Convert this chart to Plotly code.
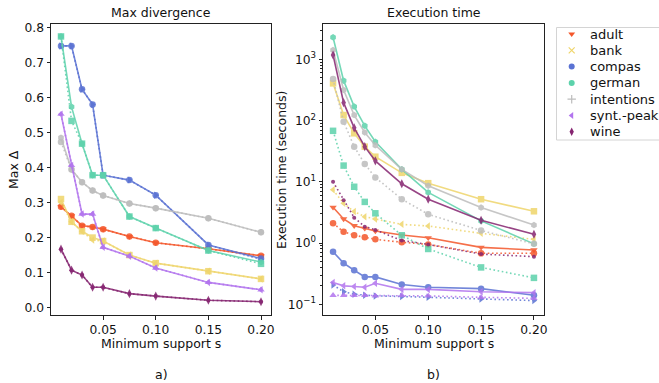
import plotly.graph_objects as go

support = [0.01, 0.02, 0.03, 0.04, 0.05, 0.075, 0.10, 0.15, 0.20]
datasets = ["adult", "bank", "compas", "german", "intentions", "synt.-peak", "wine"]
colors = {
    "adult": "#f4562a",
    "bank": "#efd56b",
    "compas": "#5a72d3",
    "german": "#5cd2ab",
    "intentions": "#bdbdbd",
    "synt.-peak": "#b274ee",
    "wine": "#852470",
}

# Max divergence (panel a) - method A (solid) and method B (dotted)
maxdelta_a = {
    "adult":      [0.288, 0.262, 0.234, 0.230, 0.224, 0.203, 0.185, 0.168, 0.148],
    "bank":       [0.310, 0.245, 0.218, 0.200, 0.190, 0.150, 0.127, 0.104, 0.082],
    "compas":     [0.747, 0.747, 0.623, 0.580, 0.378, 0.364, 0.321, 0.179, 0.140],
    "german":     [0.774, 0.573, 0.468, 0.378, 0.378, 0.260, 0.227, 0.163, 0.130],
    "intentions": [0.485, 0.394, 0.358, 0.334, 0.320, 0.297, 0.284, 0.255, 0.215],
    "synt.-peak": [0.552, 0.406, 0.267, 0.267, 0.172, 0.147, 0.113, 0.072, 0.051],
    "wine":       [0.167, 0.107, 0.093, 0.058, 0.058, 0.040, 0.033, 0.021, 0.017],
}
maxdelta_b = {
    "adult":      [0.288, 0.262, 0.234, 0.230, 0.224, 0.203, 0.185, 0.168, 0.148],
    "bank":       [0.300, 0.245, 0.218, 0.193, 0.190, 0.150, 0.127, 0.104, 0.082],
    "compas":     [0.747, 0.747, 0.623, 0.580, 0.378, 0.364, 0.321, 0.179, 0.138],
    "german":     [0.774, 0.533, 0.468, 0.378, 0.378, 0.260, 0.227, 0.163, 0.125],
    "intentions": [0.473, 0.394, 0.358, 0.334, 0.320, 0.297, 0.284, 0.255, 0.215],
    "synt.-peak": [0.552, 0.406, 0.267, 0.267, 0.172, 0.147, 0.113, 0.072, 0.051],
    "wine":       [0.167, 0.107, 0.093, 0.058, 0.058, 0.040, 0.033, 0.021, 0.017],
}

# Execution time in seconds (panel b)
time_a = {
    "adult":      [3.84, 2.47, 1.92, 1.74, 1.57, 1.35, 1.22, 0.85, 0.77],
    "bank":       [405, 123, 62, 37.5, 25.7, 14, 9.5, 5.2, 3.3],
    "compas":     [0.72, 0.47, 0.36, 0.28, 0.28, 0.21, 0.19, 0.18, 0.14],
    "german":     [2290, 449, 169, 82, 45, 16, 6.7, 2.3, 0.97],
    "intentions": [1420, 316, 123, 64, 39.5, 16, 8.65, 3.8, 1.97],
    "synt.-peak": [0.226, 0.20, 0.195, 0.19, 0.22, 0.175, 0.175, 0.16, 0.155],
    "wine":       [1180, 196, 76, 37.5, 22, 9.3, 5.2, 2.35, 1.39],
}
time_b = {
    "adult":      [2.1, 1.53, 1.34, 1.24, 1.15, 1.03, 0.95, 0.68, 0.68],
    "bank":       [7.4, 4.45, 3.26, 2.7, 2.47, 2.02, 1.9, 1.44, 1.15],
    "compas":     [0.207, 0.16, 0.146, 0.14, 0.137, 0.134, 0.13, 0.122, 0.115],
    "german":     [68, 18.4, 8.3, 4.7, 3.06, 1.34, 0.80, 0.40, 0.27],
    "intentions": [477, 96, 37.5, 19.5, 11.8, 5.2, 2.95, 1.6, 0.97],
    "synt.-peak": [0.14, 0.14, 0.14, 0.14, 0.137, 0.14, 0.137, 0.13, 0.125],
    "wine":       [10, 5.0, 2.6, 1.85, 1.64, 1.1, 0.95, 0.66, 0.6],
}

marker_a = {"adult": "triangle-down", "bank": "square", "compas": "circle",
            "german": "hexagon", "intentions": "hexagon", "synt.-peak": "triangle-left",
            "wine": "diamond-tall"}
marker_b = {"adult": "circle", "bank": "triangle-left", "compas": "triangle-right",
            "german": "square", "intentions": "circle", "synt.-peak": "triangle-up",
            "wine": "circle"}
legend_marker = {"adult": "triangle-down", "bank": "x-thin", "compas": "circle",
                 "german": "circle", "intentions": "cross-thin", "synt.-peak": "triangle-left",
                 "wine": "diamond-tall"}

FONT = "DejaVu Sans"
W, H = 659, 383
fig = go.Figure()

DOT = "1.6px,2.6px"
for d in datasets:
    c = colors[d]
    for xa, ya, ys_a, ys_b in [("x", "y", maxdelta_a, maxdelta_b), ("x2", "y2", time_a, time_b)]:
        fig.add_trace(go.Scatter(
            x=support, y=ys_b[d], xaxis=xa, yaxis=ya, mode="lines+markers",
            line=dict(color=c, width=1.6, dash=DOT),
            marker=dict(symbol=marker_b[d], size=4 if d == "wine" else 6.5, color=c),
            opacity=0.85, showlegend=False, hoverinfo="skip"))
        fig.add_trace(go.Scatter(
            x=support, y=ys_a[d], xaxis=xa, yaxis=ya, mode="lines+markers",
            line=dict(color=c, width=1.6),
            marker=dict(symbol=marker_a[d], size=6.5, color=c, line=dict(width=0)),
            opacity=0.85, showlegend=False, hoverinfo="skip"))

# Hand-built legend (pixel coordinate overlay axis)
leg_top, leg_row = 34.0, 16.3
leg_y = [leg_top + i * leg_row for i in range(len(datasets))]
for d, yy in zip(datasets, leg_y):
    c = colors[d]
    thin = "thin" in legend_marker[d]
    fig.add_trace(go.Scatter(
        x=[571.7], y=[yy], xaxis="x3", yaxis="y3", mode="markers",
        marker=dict(symbol=legend_marker[d], size=6, color=c,
                    line=dict(width=1.2, color=c) if thin else dict(width=0)),
        showlegend=False, hoverinfo="skip", cliponaxis=False))

axis_common = dict(showline=True, mirror=True, linecolor="#222", linewidth=1,
                   ticks="outside", ticklen=3.5, tickwidth=1, tickcolor="#222",
                   showgrid=False, zeroline=False, automargin=False,
                   tickfont=dict(family=FONT, size=12.3, color="#111"))

xticks = [0.05, 0.10, 0.15, 0.20]
xlabels = ["0.05", "0.10", "0.15", "0.20"]
yticks_a = [0.0, 0.1, 0.2, 0.3, 0.4, 0.5, 0.6, 0.7, 0.8]
yticks_b = [0.1, 1, 10, 100, 1000]
ylabels_b = ["10<sup>−1</sup>", "10<sup>0</sup>", "10<sup>1</sup>", "10<sup>2</sup>", "10<sup>3</sup>"]
minor_b = [m * 10 ** e for e in range(-1, 4) for m in range(2, 10) if m * 10 ** e < 3700]

ydom = [1 - 315 / H, 1 - 24 / H]
ann_font = dict(family=FONT, size=12.5, color="#111")


def ann(text, x, y, angle=0, xanchor="center"):
    return dict(text=text, x=x / W, y=1 - y / H, xref="paper", yref="paper",
                showarrow=False, font=ann_font, xanchor=xanchor, yanchor="middle",
                textangle=angle)


annotations = [
    ann("Max divergence", 161, 12),
    ann("Execution time", 433.5, 12),
    ann("Minimum support s", 161, 343.5),
    ann("Minimum support s", 433.5, 343.5),
    ann("Max Δ", 13, 170, -90),
    ann("Execution time (seconds)", 281, 170, -90),
    ann("a)", 161, 374),
    ann("b)", 433.5, 374),
]
for d, yy in zip(datasets, leg_y):
    annotations.append(dict(text=d, x=587.5 / W, y=1 - yy / H, xref="paper", yref="paper",
                            showarrow=False, xanchor="left", yanchor="middle",
                            font=dict(family=FONT, size=13, color="#111")))

fig.update_layout(
    width=W, height=H,
    margin=dict(l=0, r=0, t=0, b=0),
    paper_bgcolor="white", plot_bgcolor="rgba(0,0,0,0)",
    font=dict(family=FONT, size=12, color="#111"),
    showlegend=False,
    xaxis=dict(domain=[51 / W, 271 / W], range=[0.0005, 0.2095], anchor="y",
               tickvals=xticks, ticktext=xlabels, **axis_common),
    yaxis=dict(domain=ydom, range=[-0.021, 0.8095], anchor="x",
               tickvals=yticks_a, ticktext=[f"{v:.1f}" for v in yticks_a], **axis_common),
    xaxis2=dict(domain=[323 / W, 544 / W], range=[0.0005, 0.2095], anchor="y2",
                tickvals=xticks, ticktext=xlabels, **axis_common),
    yaxis2=dict(domain=ydom, type="log", range=[-1.175, 3.577],
                anchor="x2", tickvals=yticks_b, ticktext=ylabels_b,
                minor=dict(ticks="outside", ticklen=2, tickwidth=0.8, tickcolor="#222",
                           tickvals=minor_b, showgrid=False),
                **axis_common),
    xaxis3=dict(domain=[0, 1], range=[0, W], visible=False, fixedrange=True, anchor="y3"),
    yaxis3=dict(domain=[0, 1], range=[H, 0], visible=False, fixedrange=True, anchor="x3"),
    shapes=[dict(type="rect", xref="paper", yref="paper",
                 x0=556.5 / W, x1=700 / W, y0=1 - 140 / H, y1=1 - 27.5 / H,
                 line=dict(color="#d4d4d4", width=1), fillcolor="rgba(0,0,0,0)", layer="below")],
    annotations=annotations,
)

fig.write_html("out.html", config={"displayModeBar": False},
               post_script="document.body.style.margin='0';document.body.style.overflow='hidden';")
